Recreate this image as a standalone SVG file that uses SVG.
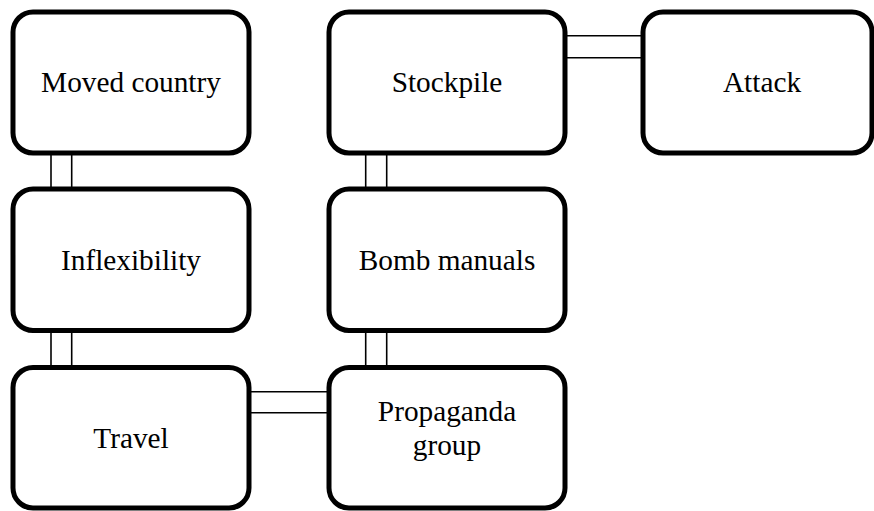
<svg xmlns="http://www.w3.org/2000/svg" width="874" height="511" viewBox="0 0 874 511">
<style>
.box{fill:#fff;stroke:#000;stroke-width:5}
.lbl{font-family:'Liberation Serif','Times New Roman',Times,serif;font-size:29.3px;fill:#000;text-anchor:middle}
.con line{stroke:#000;stroke-width:1.6}
</style>
<rect width="874" height="511" fill="#fff"/>
<g id="connectors" class="con">
<line x1="51" y1="153" x2="51" y2="189"/>
<line x1="71.7" y1="153" x2="71.7" y2="189"/>
<line x1="51" y1="330" x2="51" y2="367"/>
<line x1="71.7" y1="330" x2="71.7" y2="367"/>
<line x1="365.7" y1="153" x2="365.7" y2="189"/>
<line x1="386.7" y1="153" x2="386.7" y2="189"/>
<line x1="365.7" y1="330" x2="365.7" y2="367"/>
<line x1="386.7" y1="330" x2="386.7" y2="367"/>
<line x1="565" y1="35.7" x2="643" y2="35.7"/>
<line x1="565" y1="57.7" x2="643" y2="57.7"/>
<line x1="249" y1="391.7" x2="329" y2="391.7"/>
<line x1="249" y1="412.7" x2="329" y2="412.7"/>
</g>
<g id="moved-country">
<rect class="box" x="13" y="12" width="236" height="141" rx="20"/>
<text class="lbl" x="131" y="92">Moved country</text>
</g>
<g id="stockpile">
<rect class="box" x="329" y="12" width="236" height="141" rx="20"/>
<text class="lbl" x="447" y="92">Stockpile</text>
</g>
<g id="attack">
<rect class="box" x="643" y="12" width="229" height="141" rx="20"/>
<text class="lbl" x="762" y="92">Attack</text>
</g>
<g id="inflexibility">
<rect class="box" x="13" y="189" width="236" height="141.5" rx="20"/>
<text class="lbl" x="131" y="270">Inflexibility</text>
</g>
<g id="bomb-manuals">
<rect class="box" x="329" y="189" width="236" height="141.5" rx="20"/>
<text class="lbl" x="447" y="270">Bomb manuals</text>
</g>
<g id="travel">
<rect class="box" x="13" y="367.5" width="236" height="140.5" rx="20"/>
<text class="lbl" x="131" y="448">Travel</text>
</g>
<g id="propaganda-group">
<rect class="box" x="329" y="367.5" width="236" height="140.5" rx="20"/>
<text class="lbl" x="447" y="421">Propaganda</text>
<text class="lbl" x="447" y="455">group</text>
</g>
</svg>
